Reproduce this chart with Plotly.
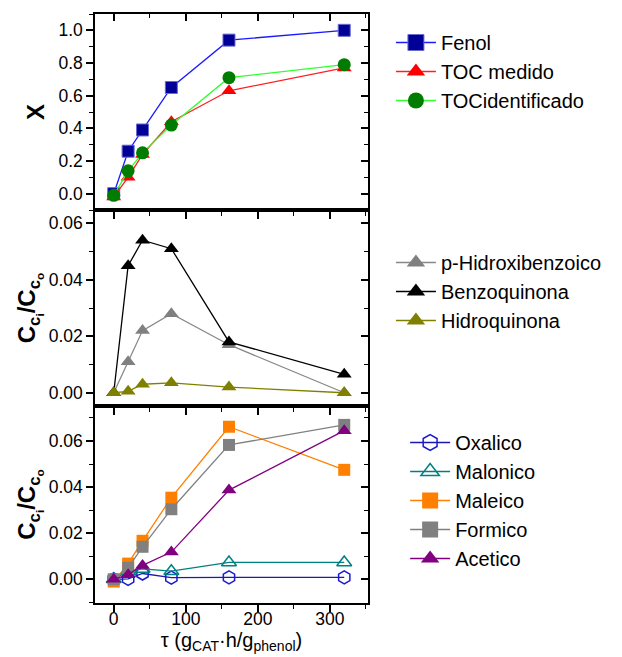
import plotly.graph_objects as go

tau = [0, 20, 40, 80, 160, 320]

# Panel 1: conversion X
fenol = [0.0, 0.26, 0.39, 0.65, 0.94, 1.0]
toc_medido = [-0.02, 0.10, 0.24, 0.44, 0.63, 0.77]
toc_ident = [-0.01, 0.14, 0.25, 0.42, 0.71, 0.79]

# Panel 2: aromatic intermediates
p_hidroxi = [0.0, 0.011, 0.022, 0.028, 0.017, 0.0]
benzoq = [0.0, 0.045, 0.054, 0.051, 0.018, 0.0065]
hidroq = [0.0, 0.0005, 0.003, 0.0035, 0.002, 0.0]

# Panel 3: acids
oxalico = [0.0, 0.0002, 0.0025, 0.0007, 0.0008, 0.0008]
malonico = [0.0, 0.0035, 0.0045, 0.0035, 0.0073, 0.0073]
maleico = [-0.001, 0.0068, 0.0167, 0.0354, 0.0662, 0.0475]
formico = [0.0, 0.0050, 0.0141, 0.0304, 0.0583, 0.0670]
acetico = [0.0, 0.0020, 0.0060, 0.0118, 0.0387, 0.0645]

FONT = "Liberation Sans, Arial, sans-serif"

fig = go.Figure()

def add(x, y, name, line_color, m_symbol, m_color, m_size, xa, ya, legend, m_line=None):
    mline = m_line if m_line else dict(width=0)
    fig.add_trace(go.Scatter(
        x=x, y=y, name=name, mode="lines+markers", showlegend=False, legendgroup=name,
        line=dict(color=line_color, width=1.3),
        marker=dict(symbol=m_symbol, color=m_color, size=m_size, line=mline),
        xaxis=xa, yaxis=ya))
    # legend entry (larger symbol, as in the original legend)
    fig.add_trace(go.Scatter(
        x=[None], y=[None], name=name, mode="lines+markers", legendgroup=name,
        line=dict(color=line_color, width=1.3),
        marker=dict(symbol=m_symbol, color=m_color, size=16, line=mline),
        xaxis=xa, yaxis=ya, legend=legend, hoverinfo="skip"))

# Panel 1 (top)
add(tau, fenol, "Fenol", "#1a1aff", "square", "#000096", 12, "x", "y", "legend",
    dict(color="#6a6ad0", width=1))
add(tau, toc_medido, "TOC medido", "#ff2020", "triangle-up", "#ff0000", 13, "x", "y", "legend")
add(tau, toc_ident, "TOCidentificado", "#30ff30", "circle", "#007d00", 13, "x", "y", "legend")

# Panel 2 (middle)
add(tau, p_hidroxi, "p-Hidroxibenzoico", "#888888", "triangle-up", "#808080", 13, "x2", "y2", "legend2")
add(tau, benzoq, "Benzoquinona", "#000000", "triangle-up", "#000000", 13, "x2", "y2", "legend2")
add(tau, hidroq, "Hidroquinona", "#808000", "triangle-up", "#808000", 13, "x2", "y2", "legend2")

# Panel 3 (bottom)
add(tau, oxalico, "Oxalico", "#1a1ab0", "hexagon-open", "#1a1ad0", 13, "x3", "y3", "legend3",
    dict(color="#1a1ad0", width=1.5))
add(tau, malonico, "Malonico", "#008080", "triangle-up-open", "#008080", 13, "x3", "y3", "legend3",
    dict(color="#008080", width=1.5))
add(tau, maleico, "Maleico", "#ff8000", "square", "#ff8000", 12, "x3", "y3", "legend3")
add(tau, formico, "Formico", "#808080", "square", "#808080", 12, "x3", "y3", "legend3")
add(tau, acetico, "Acetico", "#800080", "triangle-up", "#800080", 13, "x3", "y3", "legend3")

# dummy traces to ensure the mirror axes get drawn
for xa, ya in [("x4", "y"), ("x5", "y2"), ("x6", "y3"), ("x", "y4"), ("x2", "y5"), ("x3", "y6")]:
    fig.add_trace(go.Scatter(x=[None], y=[None], xaxis=xa, yaxis=ya, showlegend=False,
                             hoverinfo="skip", mode="markers"))

H_TOT = 589.0
d3 = [0, 197 / H_TOT]
d2 = [197 / H_TOT, 393 / H_TOT]
d1 = [393 / H_TOT, 1]

XR = [-26, 353]
tickfont = dict(family=FONT, size=17.5, color="black")

def xax(anchor, labels, overlay=None):
    a = dict(range=XR, anchor=anchor, showgrid=False, zeroline=False, automargin=False,
             showline=True, linecolor="black", linewidth=1.5,
             ticks="outside", ticklen=7, tickwidth=1.5, tickcolor="black",
             tickvals=[0, 100, 200, 300], showticklabels=labels, tickfont=tickfont,
             minor=dict(tickvals=[50, 150, 250, 350], ticklen=4, tickwidth=1.2,
                        tickcolor="black", ticks="outside"))
    if overlay:
        a.update(overlaying=overlay, side="top", ticks="inside", showticklabels=False)
        a["minor"]["ticks"] = "inside"
    return a

def yax(anchor, rng, dtick, mdtick, fmt, domain=None, overlay=None, title=None, standoff=7):
    a = dict(range=rng, anchor=anchor, showgrid=False, zeroline=False, automargin=False,
             showline=True, linecolor="black", linewidth=1.5,
             ticks="outside", ticklen=7, tickwidth=1.5, tickcolor="black",
             tick0=0, dtick=dtick, tickformat=fmt, tickfont=tickfont,
             minor=dict(dtick=mdtick, tick0=0, ticklen=4, tickwidth=1.2,
                        tickcolor="black", ticks="outside"))
    if domain:
        a["domain"] = domain
    if title:
        a["title"] = dict(text=title, font=dict(family=FONT, size=24, color="black"),
                          standoff=standoff)
    if overlay:
        a.update(overlaying=overlay, side="right", ticks="inside", showticklabels=False)
        a["minor"]["ticks"] = "inside"
    return a

ctitle = "<b>C<sub>c<sub>i</sub></sub>/C<sub>c<sub>o</sub></sub></b>"

fig.update_layout(
    xaxis=xax("y", False),
    xaxis2=xax("y2", False),
    xaxis3=xax("y3", True),
    xaxis4=xax("y", False, overlay="x"),
    xaxis5=xax("y2", False, overlay="x2"),
    xaxis6=xax("y3", False, overlay="x3"),
    yaxis=yax("x", [-0.1, 1.1], 0.2, 0.1, ".1f", domain=d1, title="<b>X</b>", standoff=7),
    yaxis2=yax("x2", [-0.0047, 0.0647], 0.02, 0.01, ".2f", domain=d2, title=ctitle, standoff=6),
    yaxis3=yax("x3", [-0.0103, 0.0752], 0.02, 0.01, ".2f", domain=d3, title=ctitle, standoff=6),
    yaxis4=yax("x", [-0.1, 1.1], 0.2, 0.1, ".1f", overlay="y"),
    yaxis5=yax("x2", [-0.0047, 0.0647], 0.02, 0.01, ".2f", overlay="y2"),
    yaxis6=yax("x3", [-0.0103, 0.0752], 0.02, 0.01, ".2f", overlay="y3"),
)
fig.layout.xaxis3.ticklabelstandoff = -8
fig.layout.xaxis3.title = dict(text="\u03c4 (g<sub>CAT</sub>\u00b7h/g<sub>phenol</sub>)",
                               font=dict(family=FONT, size=20, color="black"), standoff=3)

legfont = dict(family=FONT, size=20, color="black")
def leg(x, y):
    return dict(x=x, y=y, xanchor="left", yanchor="top", font=legfont,
                bgcolor="rgba(0,0,0,0)", borderwidth=0, itemwidth=40, tracegroupgap=0)

fig.update_layout(
    legend=leg(1.084, 1 - (23 - 14) / H_TOT),
    legend2=leg(1.084, 1 - (243 - 14) / H_TOT),
    legend3=leg(1.136, 1 - (423 - 14) / H_TOT),
    width=614, height=649,
    margin=dict(l=87, r=254, t=6, b=54),
    paper_bgcolor="white", plot_bgcolor="white",
    font=dict(family=FONT, color="black"),
)

fig.write_html("out.html")
